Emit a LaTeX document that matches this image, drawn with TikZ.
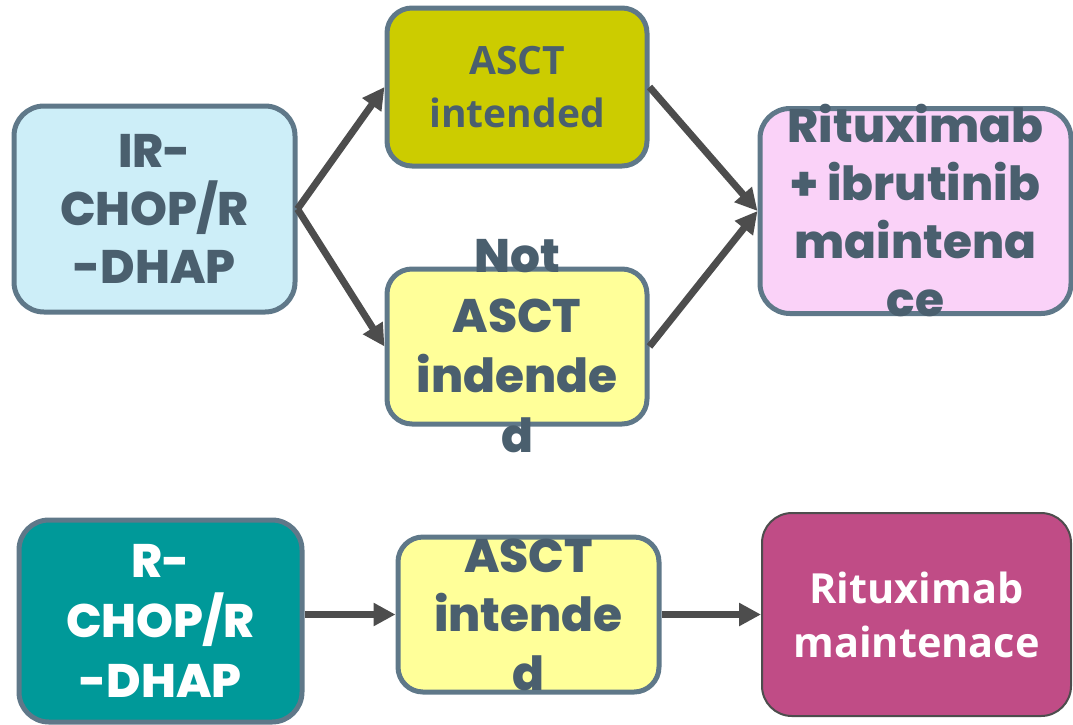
\documentclass[tikz,border=0pt]{standalone}
\usepackage{fontspec}
\setmainfont{Open Sans}
\newfontfamily\geofont{Poppins}[UprightFont=* ExtraBold]
\newfontfamily\roundfont{Open Sans}[UprightFont=* Bold]
\usetikzlibrary{arrows.meta}

\definecolor{edgeblue}{HTML}{5F7889}
\definecolor{inkslate}{HTML}{4A5F6E}
\definecolor{arrowgray}{HTML}{4D4D4D}
\definecolor{paleblue}{HTML}{CDEEF8}
\definecolor{olive}{HTML}{CCCC00}
\definecolor{paleyellow}{HTML}{FFFF99}
\definecolor{palepink}{HTML}{FAD2F8}
\definecolor{teal}{HTML}{009999}
\definecolor{berry}{HTML}{C04C86}

\tikzset{
  box/.style={draw=edgeblue, line width=5pt, rounded corners=30pt, inner sep=0pt},
  geotext/.style={font=\geofont\fontsize{47}{58}\selectfont, text=inkslate, align=center, inner sep=0pt},
  roundtext/.style={font=\roundfont\fontsize{39}{53}\selectfont, text=inkslate, align=center, inner sep=0pt},
  flow/.style={draw=arrowgray, line width=7pt, -{Triangle[length=22pt,width=22pt]}},
}

\begin{document}
\begin{tikzpicture}[x=1pt, y=-1pt]
  \useasboundingbox (0,0) rectangle (1073,724);

  % upper pathway
  \node[box, fill=paleblue, minimum width=281pt, minimum height=206pt,
        label={[geotext]center:{IR-\\CHOP/R\\-DHAP}}] (ir) at (154.5,209) {};
  \node[box, fill=olive, rounded corners=25pt, minimum width=260pt, minimum height=158pt,
        label={[roundtext]center:{ASCT\\intended}}] (asct) at (517,87) {};
  \node[box, fill=paleyellow, rounded corners=25pt, minimum width=260pt, minimum height=155pt,
        label={[geotext, font=\geofont\fontsize{47}{60}\selectfont]center:{Not\\ASCT\\indende\\d}}] (noasct) at (517,346.5) {};
  \node[box, fill=palepink, minimum width=311pt, minimum height=205pt,
        label={[geotext]center:{Rituximab\\+ ibrutinib\\maintena\\ce}}] (ritibr) at (915.5,211) {};

  % lower pathway
  \node[box, fill=teal, minimum width=283pt, minimum height=202pt,
        label={[geotext, text=white, font=\geofont\fontsize{47}{60}\selectfont]center:{R-\\CHOP/R\\-DHAP}}] (rchop) at (160.5,621) {};
  \node[box, fill=paleyellow, rounded corners=25pt, minimum width=261pt, minimum height=155pt,
        label={[geotext, font=\geofont\fontsize{47}{59}\selectfont]center:{ASCT\\intende\\d}}] (asctlow) at (528.5,614.5) {};
  \node[box, fill=berry, draw=arrowgray, line width=2pt, minimum width=309pt, minimum height=203pt,
        label={[roundtext, text=white, font=\roundfont\fontsize{41.5}{54}\selectfont]center:{Rituximab\\maintenace}}] (ritm) at (916.5,614.5) {};

  % connectors
  \draw[flow] (ir.east) -- (asct.west);
  \draw[flow] (ir.east) -- (noasct.west);
  \draw[flow] (asct.east) -- (ritibr.west);
  \draw[flow] (noasct.east) -- (ritibr.west);
  \draw[flow] (rchop.east |- asctlow.west) -- (asctlow.west);
  \draw[flow] (asctlow.east) -- (ritm.west);
\end{tikzpicture}
\end{document}
